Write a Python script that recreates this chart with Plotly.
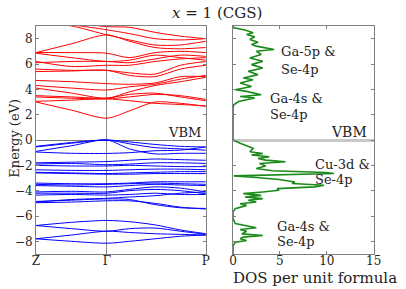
import plotly.graph_objects as go

# k-path sample positions (Z, ..., Gamma, ..., P)
k_points = [0.0, 0.21, 0.417, 0.55, 0.7, 0.85, 1.0]
k_ticks = [0.0, 0.417, 1.0]
k_labels = ["Z", "Γ", "P"]

# conduction bands (eV) at k_points
cond_bands = [
    [3.0, 2.35, 1.72, 2.3, 3.0, 2.9, 2.65],
    [3.05, 3.15, 3.25, 3.1, 2.9, 2.8, 2.7],
    [3.4, 3.3, 3.25, 3.4, 3.6, 3.5, 3.2],
    [3.5, 3.4, 3.3, 3.6, 3.7, 3.4, 3.1],
    [4.1, 3.7, 3.3, 3.8, 4.3, 4.6, 4.95],
    [4.3, 4.1, 3.95, 4.2, 4.4, 4.8, 5.1],
    [4.7, 4.6, 4.45, 4.4, 4.5, 5.0, 5.0],
    [5.4, 5.45, 5.5, 5.1, 5.0, 5.6, 5.9],
    [5.6, 5.5, 5.5, 5.3, 5.2, 5.9, 6.2],
    [6.2, 5.8, 5.9, 5.9, 6.2, 6.4, 6.5],
    [6.1, 6.2, 6.2, 6.1, 6.4, 6.7, 6.6],
    [6.85, 6.5, 6.2, 6.3, 6.7, 6.5, 6.3],
    [6.9, 6.9, 6.85, 6.5, 6.9, 7.0, 6.9],
    [6.9, 7.6, 8.3, 7.8, 7.3, 7.2, 7.3],
    [9.3, 9.0, 8.3, 7.9, 7.5, 7.5, 7.8],
    [9.5, 9.1, 8.7, 8.4, 8.0, 7.9, 8.0],
    [9.8, 9.3, 8.95, 8.9, 8.5, 8.2, 8.0],
]

# valence bands (eV) at k_points
val_bands = [
    [-0.5, -0.2, 0.0, -0.15, -0.35, -0.5, -0.55],
    [-0.55, -0.25, 0.0, -0.3, -0.6, -0.7, -0.8],
    [-0.9, -0.45, 0.0, -0.7, -1.1, -1.05, -1.05],
    [-0.95, -1.05, -1.06, -1.0, -0.85, -0.8, -0.55],
    [-1.8, -1.75, -1.7, -1.6, -1.5, -1.55, -1.6],
    [-1.9, -1.85, -1.95, -1.9, -1.8, -1.8, -1.85],
    [-2.0, -2.05, -2.05, -2.0, -2.05, -2.1, -2.1],
    [-2.35, -2.4, -2.4, -2.35, -2.3, -2.3, -2.35],
    [-2.55, -2.6, -2.65, -2.6, -2.55, -2.5, -2.5],
    [-2.6, -2.65, -2.7, -2.7, -2.65, -2.65, -2.65],
    [-3.4, -3.45, -3.45, -3.4, -3.3, -3.3, -3.3],
    [-3.5, -3.55, -3.5, -3.45, -3.4, -3.45, -3.5],
    [-3.6, -3.65, -3.7, -3.6, -3.5, -3.55, -3.6],
    [-4.1, -4.05, -4.1, -3.9, -3.7, -3.8, -4.1],
    [-4.2, -4.2, -4.2, -4.0, -3.9, -4.0, -4.25],
    [-4.35, -4.3, -4.35, -4.3, -4.2, -4.3, -4.3],
    [-4.9, -4.7, -4.6, -4.5, -4.4, -4.2, -4.1],
    [-4.95, -4.9, -4.8, -4.8, -5.0, -5.3, -5.45],
    [-4.85, -4.75, -4.65, -4.7, -5.1, -5.35, -5.4],
    [-6.75, -6.5, -6.35, -6.45, -6.7, -7.1, -7.4],
    [-6.75, -7.0, -7.2, -7.0, -6.95, -7.2, -7.45],
    [-7.8, -7.5, -7.2, -7.3, -7.4, -7.45, -7.5],
    [-7.8, -8.0, -8.15, -8.0, -7.8, -7.6, -7.5],
]

# density of states (energy in eV, DOS per unit formula)
dos_energy = [
    9.0, 8.86, 8.68, 8.47, 8.33, 8.15, 7.94, 7.72, 7.54, 7.41, 7.14, 7.01,
    6.75, 6.48, 6.22, 5.95, 5.69, 5.42, 5.16, 4.89, 4.76, 4.5, 4.23, 3.97,
    3.84, 3.57, 3.44, 3.31, 3.04, 2.78, 2.51, 0.0,
    -0.26, -0.4, -0.66, -0.93, -1.06, -1.19, -1.32, -1.46, -1.59, -1.72,
    -1.85, -2.06, -2.25, -2.43, -2.57, -2.65, -2.72, -2.83, -2.96, -3.12,
    -3.31, -3.44, -3.57, -3.7, -3.84, -3.97, -4.1, -4.23, -4.37, -4.5,
    -4.63, -4.76, -4.89, -5.03, -5.16, -5.42, -5.69, -6.2, -6.6, -6.8,
    -6.93, -7.06, -7.2, -7.41, -7.54, -7.67, -7.8, -7.94, -8.07, -8.33, -9.0,
]
dos_values = [
    0.0, 0.07, 1.28, 2.14, 1.45, 2.31, 1.79, 2.66, 1.97, 2.48, 4.38, 2.48,
    3.0, 1.79, 3.17, 1.97, 3.17, 1.62, 2.66, 1.1, 2.14, 0.76, 1.97, 0.24,
    1.45, 3.0, 0.76, 2.31, 0.59, 0.07, 0.0, 0.0,
    0.76, 1.28, 2.14, 1.8, 3.17, 1.97, 3.86, 2.66, 3.48, 5.59,
    2.83, 3.48, 2.48, 4.2, 9.9, 10.76, 4.9, 0.07, 2.5, 4.9,
    6.6, 6.28, 9.7, 8.7, 4.7, 4.9, 3.17, 1.1, 3.0, 1.28,
    3.17, 1.62, 2.48, 0.76, 1.45, 0.24, 0.0, 0.0, 0.24, 1.45,
    2.48, 0.76, 1.45, 0.93, 3.17, 1.1, 0.76, 1.45, 0.24, 0.0, 0.0,
]

fig = go.Figure()

for band in cond_bands:
    fig.add_trace(go.Scatter(x=k_points, y=band, mode="lines",
                             line=dict(color="#ff0000", width=1, shape="spline", smoothing=0.8),
                             xaxis="x", yaxis="y", showlegend=False, hoverinfo="skip"))
for band in val_bands:
    fig.add_trace(go.Scatter(x=k_points, y=band, mode="lines",
                             line=dict(color="#0000ff", width=1, shape="spline", smoothing=0.8),
                             xaxis="x", yaxis="y", showlegend=False, hoverinfo="skip"))

fig.add_trace(go.Scatter(x=dos_values, y=dos_energy, mode="lines",
                         line=dict(color="#1a8a1a", width=1.6),
                         xaxis="x2", yaxis="y2", showlegend=False, hoverinfo="skip"))

font_family = "DejaVu Serif"
axis_common = dict(showline=True, linecolor="#808080", linewidth=1, mirror="ticks",
                   ticks="inside", ticklen=3, tickcolor="#808080")

ydom = [1 - 254 / 289, 1 - 26 / 289]
fig.update_layout(
    width=406, height=289,
    margin=dict(l=0, r=0, t=0, b=0),
    paper_bgcolor="white", plot_bgcolor="white",
    font=dict(family=font_family, size=12, color="#222222"),
    xaxis=dict(domain=[33 / 406, 208 / 406], range=[0, 1], tickvals=k_ticks,
               ticktext=k_labels, showgrid=True, gridcolor="#8a8a8a", gridwidth=1,
               zeroline=False, ticklabelstandoff=-4, **axis_common),
    yaxis=dict(domain=ydom, range=[-9, 9], tickvals=[-8, -6, -4, -2, 0, 2, 4, 6, 8],
               ticktext=["−8", "−6", "−4", "−2", "0", "2", "4", "6", "8"],
               showgrid=False, zeroline=True, zerolinecolor="#777777", zerolinewidth=1.2,
               **axis_common),
    xaxis2=dict(domain=[236 / 406, 381 / 406], range=[0, 15], tickvals=[0, 5, 10, 15],
                showgrid=False, zeroline=False, anchor="y2", ticklabelstandoff=-4,
                **axis_common),
    yaxis2=dict(domain=ydom, range=[-9, 9], tickvals=[-8, -6, -4, -2, 0, 2, 4, 6, 8],
                showticklabels=False, showgrid=False, zeroline=True,
                zerolinecolor="#c8c8c8", zerolinewidth=3, anchor="x2", **axis_common),
)

def font(size):
    return dict(family=font_family, size=size, color="#222222")

def add_text(px, py, text, size=13, xanchor="center", **kw):
    fig.add_annotation(x=px / 406, y=1 - py / 289, xref="paper", yref="paper",
                       xanchor=xanchor, yanchor="middle", showarrow=False,
                       text=text, font=font(size), **kw)

add_text(219, 13, "<i>x</i> = 1 (CGS)", size=15)
add_text(10, 138, "Energy (eV)", size=13, textangle=-90)
add_text(320, 278, "DOS per unit formula", size=15)
add_text(205, 132, "VBM", xanchor="right")
add_text(376, 132, "VBM", size=14, xanchor="right")
labels = [
    (283, 52, "Ga-5p &"), (283, 70, "Se-4p"),
    (272, 98, "Ga-4s &"), (272, 114, "Se-4p"),
    (318, 164, "Cu-3d &"), (318, 179, "Se-4p"),
    (279, 226, "Ga-4s &"), (279, 241, "Se-4p"),
]
for lx, ly, lt in labels:
    add_text(lx, ly, lt, xanchor="left")

fig.write_html("out.html", config={"displayModeBar": False},
               post_script="document.body.style.margin='0';document.body.style.overflow='hidden';")
